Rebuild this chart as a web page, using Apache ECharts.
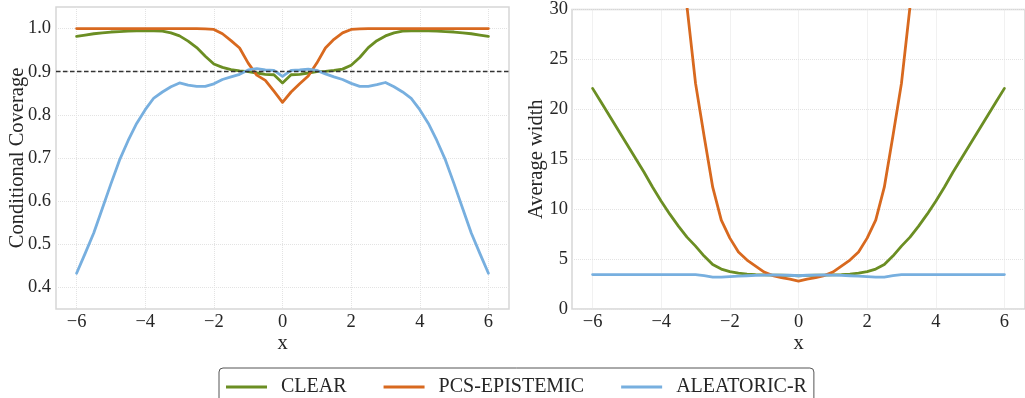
<!DOCTYPE html>
<html>
<head>
<meta charset="utf-8">
<script src="https://cdn.jsdelivr.net/npm/echarts@6/dist/echarts.min.js"></script>
<style>
html,body{margin:0;padding:0;background:#fff;}
#chart{width:1025px;height:398px;}
</style>
</head>
<body>
<div id="chart"></div>
<script>
const xs = [-6,-5.75,-5.5,-5.25,-5,-4.75,-4.5,-4.25,-4,-3.75,-3.5,-3.25,-3,-2.75,-2.5,-2.25,-2,-1.75,-1.5,-1.25,-1,-0.75,-0.5,-0.25,0,
  0.25,0.5,0.75,1,1.25,1.5,1.75,2,2.25,2.5,2.75,3,3.25,3.5,3.75,4,4.25,4.5,4.75,5,5.25,5.5,5.75,6];
const xTicks = [-6,-4,-2,0,2,4,6];
const covTicks = [0.4,0.5,0.6,0.7,0.8,0.9,1.0];
const targetCoverage = 0.9;
const seriesNames = ['CLEAR','PCS-EPISTEMIC','ALEATORIC-R'];

const clearCov = [0.982,0.985,0.988,0.990,0.992,0.993,0.994,0.995,0.995,0.995,0.994,0.990,0.983,0.971,0.956,0.936,0.918,0.910,0.905,0.902,0.900,0.897,0.894,0.893,0.874,
  0.893,0.894,0.897,0.900,0.901,0.903,0.906,0.915,0.933,0.956,0.972,0.983,0.990,0.994,0.995,0.995,0.995,0.994,0.993,0.992,0.990,0.988,0.985,0.982];
const pcsCov = [1.0,1.0,1.0,1.0,1.0,1.0,1.0,1.0,1.0,1.0,1.0,1.0,1.0,1.0,1.0,0.9995,0.998,0.988,0.972,0.955,0.920,0.892,0.880,0.855,0.829,
  0.853,0.872,0.890,0.920,0.955,0.975,0.990,0.998,0.9995,1.0,1.0,1.0,1.0,1.0,1.0,1.0,1.0,1.0,1.0,1.0,1.0,1.0,1.0,1.0];
const aleaCov = [0.433,0.479,0.526,0.583,0.640,0.695,0.740,0.780,0.812,0.839,0.853,0.865,0.874,0.869,0.866,0.866,0.872,0.882,0.888,0.894,0.904,0.907,0.904,0.903,0.889,
  0.903,0.904,0.906,0.903,0.895,0.888,0.882,0.873,0.866,0.866,0.870,0.875,0.865,0.853,0.838,0.812,0.780,0.740,0.695,0.640,0.583,0.526,0.479,0.433];

const clearW = [22.1,20.7,19.3,17.9,16.5,15.1,13.7,12.2,10.8,9.5,8.3,7.2,6.3,5.3,4.45,4.0,3.75,3.6,3.5,3.45,3.42,3.4,3.38,3.36,3.32,
  3.36,3.38,3.4,3.42,3.45,3.5,3.6,3.75,4.0,4.45,5.3,6.3,7.2,8.3,9.5,10.8,12.2,13.7,15.1,16.5,17.9,19.3,20.7,22.1];
const pcsW = [352,295,245,202,165,133,107,85,67,52,40,30.3,22.6,17.3,12.2,8.9,7.1,5.7,4.9,4.3,3.7,3.35,3.15,3.0,2.8,
  3.0,3.15,3.35,3.7,4.3,4.9,5.7,7.1,8.9,12.2,17.3,22.6,30.3,40,52,67,85,107,133,165,202,245,295,352];
const aleaW = [3.45,3.45,3.45,3.45,3.45,3.45,3.45,3.45,3.45,3.45,3.45,3.45,3.45,3.35,3.2,3.2,3.25,3.3,3.33,3.36,3.4,3.42,3.4,3.38,3.33,
  3.38,3.4,3.42,3.4,3.36,3.33,3.3,3.25,3.2,3.2,3.35,3.45,3.45,3.45,3.45,3.45,3.45,3.45,3.45,3.45,3.45,3.45,3.45,3.45];

const colors = ['#6b8e23','#d8691f','#77afdf'];
const FONT = "'Liberation Serif','DejaVu Serif',serif";
const TXT = '#262626';

const pair = arr => xs.map((x,i)=>[x,arr[i]]);
const minus = v => (v < 0 ? '\u2212' + Math.abs(v) : String(v));

function xAxisCfg(gi){
  return {
    type:'value', gridIndex:gi, min:-6.6, max:6.6,
    name:'x', nameLocation:'middle', nameGap:24, nameMoveOverlap:false,
    nameTextStyle:{fontFamily:FONT,fontSize:20.5,color:TXT},
    axisLine:{show:false},
    axisTick:{show:false, customValues:xTicks},
    axisLabel:{customValues:xTicks, formatter:minus, margin:4, fontFamily:FONT, fontSize:18.5, color:TXT},
    splitLine:{show:true, lineStyle:{type:'dotted', color:'#e3e3e3', width:1}}
  };
}

const option = {
  backgroundColor:'#fff',
  animation:false,
  color:colors,
  grid:[
    {left:56, right:516, top:7, bottom:89, show:true, borderColor:'#d6d6d6', borderWidth:1.5},
    {left:572, right:-3, top:7, bottom:89, show:true, borderColor:'#d6d6d6', borderWidth:1.5}
  ],
  xAxis:[xAxisCfg(0), xAxisCfg(1)],
  yAxis:[
    {type:'value', gridIndex:0, min:0.35, max:1.05,
      name:'Conditional Coverage', nameLocation:'middle', nameGap:28, nameMoveOverlap:false,
      nameTextStyle:{fontFamily:FONT,fontSize:20.5,color:TXT},
      axisLine:{show:false},
      axisTick:{show:false, customValues:covTicks},
      axisLabel:{customValues:covTicks, formatter:v=>v.toFixed(1), margin:5, fontFamily:FONT, fontSize:18.5, color:TXT},
      splitLine:{show:true, lineStyle:{type:'dotted', color:'#e3e3e3', width:1}}
    },
    {type:'value', gridIndex:1, min:0, max:30, interval:5,
      name:'Average width', nameLocation:'middle', nameGap:25, nameMoveOverlap:false,
      nameTextStyle:{fontFamily:FONT,fontSize:20.5,color:TXT},
      axisLine:{show:false},
      axisTick:{show:false},
      axisLabel:{margin:4, fontFamily:FONT, fontSize:18.5, color:TXT},
      splitLine:{show:true, lineStyle:{type:'dotted', color:'#e3e3e3', width:1}}
    }
  ],
  legend:{
    left:219, top:368,
    data:seriesNames,
    icon:'rect', itemWidth:41, itemHeight:3, itemGap:37,
    textStyle:{fontFamily:FONT, fontSize:20, color:TXT, padding:[0,0,0,9]},
    borderColor:'#555', borderWidth:1, borderRadius:4,
    padding:[9,7,9,7], backgroundColor:'#fff'
  },
  series:[]
};

const covData = [clearCov, pcsCov, aleaCov];
const wData = [clearW, pcsW, aleaW];
seriesNames.forEach((n,i)=>{
  option.series.push({
    name:n, type:'line', xAxisIndex:0, yAxisIndex:0, data:pair(covData[i]),
    showSymbol:false, symbol:'none', clip:true,
    lineStyle:{width:2.8, color:colors[i], cap:'round', join:'round'},
    itemStyle:{color:colors[i]}
  });
});
seriesNames.forEach((n,i)=>{
  option.series.push({
    name:n, type:'line', xAxisIndex:1, yAxisIndex:1, data:pair(wData[i]),
    showSymbol:false, symbol:'none', clip:true,
    lineStyle:{width:2.8, color:colors[i], cap:'round', join:'round'},
    itemStyle:{color:colors[i]}
  });
});
option.series[2].markLine = {
  silent:true, symbol:'none', animation:false,
  label:{show:false},
  lineStyle:{type:[4.5,2.5], color:'#333', width:1.3},
  emphasis:{disabled:true},
  data:[{yAxis:targetCoverage}]
};

const chart = echarts.init(document.getElementById('chart'), null, {renderer:'canvas'});
chart.setOption(option);
</script>
</body>
</html>
